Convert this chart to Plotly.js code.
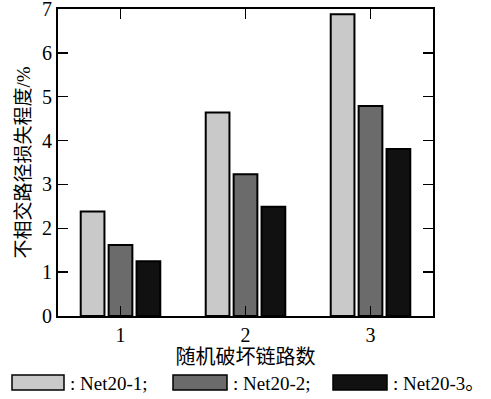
<!DOCTYPE html>
<html>
<head>
<meta charset="utf-8">
<script src="https://cdn.plot.ly/plotly-3.0.1.min.js"></script>
<style>
html,body{margin:0;padding:0;background:#fff;}
#chart{width:491px;height:399px;}
#chart svg text{font-family:"Liberation Serif","Noto Sans CJK SC",serif !important;}
</style>
</head>
<body>
<div id="chart"></div>
<script>
const categories = [1, 2, 3];
const seriesNames = ["Net20-1", "Net20-2", "Net20-3"];
const net20_1 = [2.38, 4.64, 6.88];
const net20_2 = [1.62, 3.23, 4.79];
const net20_3 = [1.25, 2.49, 3.81];
const yTicks = [0, 1, 2, 3, 4, 5, 6, 7];
const xTitle = "随机破坏链路数";
const yTitle = "不相交路径损失程度/%";

const colors = ["#c9c9c9", "#6b6b6b", "#111111"];
const values = [net20_1, net20_2, net20_3];
const serifFont = {family: "Liberation Serif", color: "#000"};

const traces = values.map((v, i) => ({
  type: "bar",
  x: categories,
  y: v,
  name: seriesNames[i],
  marker: {color: colors[i], line: {color: "#000", width: 2}},
  showlegend: false
}));

// legend drawn as paper-space swatches + labels
const legBoxes = [[12, 64], [173, 227], [333, 387]];
const W = 491, H = 399, mL = 58, mR = 58, mT = 9, mB = 83;
const pw = W - mL - mR, ph = H - mT - mB;
const px = x => (x - mL) / pw;
const py = y => (H - mB - y) / ph;
const shapes = legBoxes.map((b, i) => ({
  type: "rect", xref: "paper", yref: "paper",
  x0: px(b[0]), x1: px(b[1]), y0: py(390), y1: py(375),
  fillcolor: colors[i], line: {color: "#000", width: 1.5}
}));
const annotations = legBoxes.map((b, i) => ({
  xref: "paper", yref: "paper", x: px(b[1] + 4), y: py(383),
  xanchor: "left", yanchor: "middle", showarrow: false,
  text: ": " + seriesNames[i] + (i < 2 ? ";" : "。"),
  font: Object.assign({size: 19}, serifFont)
}));

const layout = {
  width: W, height: H,
  margin: {l: mL, r: mR, t: mT, b: mB},
  paper_bgcolor: "#fff", plot_bgcolor: "#fff",
  barmode: "group", bargap: 0.33, bargroupgap: 0.15,
  xaxis: {
    range: [0.5, 3.5], tickvals: categories, ticktext: categories.map(String),
    ticks: "inside", ticklen: 10, tickwidth: 1.5, tickcolor: "#000",
    showline: true, linecolor: "#000", linewidth: 2, mirror: "ticks",
    showgrid: false, zeroline: false, ticklabeloverflow: "allow",
    tickfont: Object.assign({size: 20}, serifFont),
    title: {text: xTitle, font: Object.assign({size: 20}, serifFont), standoff: 2}
  },
  yaxis: {
    range: [0, 7], tickvals: yTicks,
    ticks: "inside", ticklen: 10, tickwidth: 1.5, tickcolor: "#000",
    showline: true, linecolor: "#000", linewidth: 2, mirror: "ticks",
    showgrid: false, zeroline: false, ticklabeloverflow: "allow",
    tickfont: Object.assign({size: 20}, serifFont),
    title: {text: yTitle, font: Object.assign({size: 19}, serifFont), standoff: 6}
  },
  shapes: shapes,
  annotations: annotations
};

Plotly.newPlot("chart", traces, layout, {displayModeBar: false, staticPlot: true});
</script>
</body>
</html>
